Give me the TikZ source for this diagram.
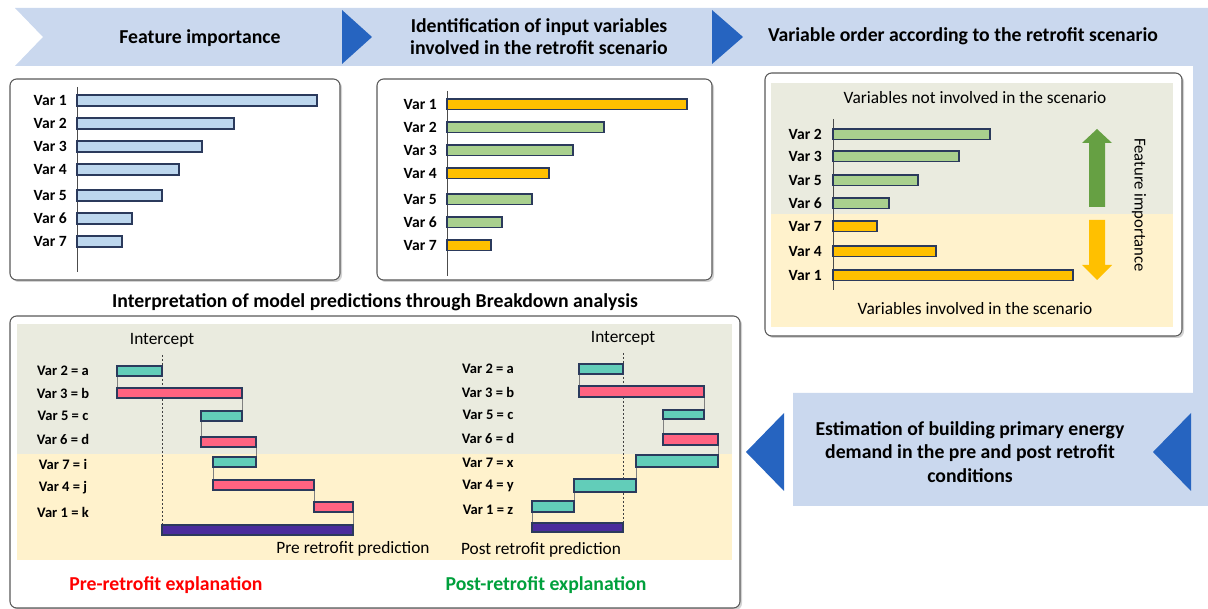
\documentclass[tikz,border=0pt]{standalone}
\usepackage{fontspec}
\setmainfont{Carlito}
\usetikzlibrary{shadows}
\definecolor{band}{HTML}{CAD8EE}
\definecolor{tri}{HTML}{2664C0}
\definecolor{bluebar}{HTML}{BDD7EE}
\definecolor{greenbar}{HTML}{A9D08E}
\definecolor{orangebar}{HTML}{FFC000}
\definecolor{barline}{HTML}{2B3A5C}
\definecolor{grayband}{HTML}{EAEBDF}
\definecolor{beige}{HTML}{FFF2CC}
\definecolor{tealbar}{HTML}{62CDB9}
\definecolor{pinkbar}{HTML}{FF6381}
\definecolor{purplebar}{HTML}{4A2C9C}
\definecolor{greenarrow}{HTML}{66A043}
\definecolor{redtxt}{HTML}{FF0000}
\definecolor{greentxt}{HTML}{00A03C}
\tikzset{
  barstyle/.style={draw=barline, line width=0.8pt},
  panel/.style={draw=black!65, line width=0.8pt, rounded corners=5pt, fill=white,
     drop shadow={shadow xshift=1.5pt, shadow yshift=-1.5pt, opacity=0.35}},
  varlab/.style={anchor=east, font=\fontsize{11.7}{13}\selectfont\bfseries, inner sep=0pt},
  bdlab/.style={anchor=center, font=\fontsize{10.9}{12}\selectfont\bfseries, inner sep=0pt},
  head/.style={font=\fontsize{14.8}{17}\selectfont\bfseries, align=center, inner sep=0pt},
  plain/.style={font=\fontsize{13}{15}\selectfont, inner sep=0pt},
  axis/.style={draw=black!70, line width=0.7pt},
  link/.style={draw=black!50, line width=0.6pt},
  dashline/.style={draw=black!75, line width=0.5pt, dash pattern=on 1.5pt off 1.5pt},
  tristyle/.style={fill=tri, draw=none}
}
\begin{document}
\begin{tikzpicture}[x=0.75pt, y=-0.75pt]
\useasboundingbox (0,0) rectangle (1208,609);
% ---- process band
\fill[band] (15,8) -- (1208,8) -- (1208,506) -- (793,506) -- (793,393) -- (1193,393) -- (1193,66) -- (15,66) -- (43,37) -- cycle;
\fill[tristyle] (342,10) -- (372,37) -- (342,64) -- cycle;
\fill[tristyle] (712,10) -- (743,37) -- (712,64) -- cycle;
\fill[tristyle] (1191,413) -- (1153,452) -- (1191,491) -- cycle;
\fill[tristyle] (784,413) -- (746,452) -- (784,491) -- cycle;
\node[head] (h1) at (200,38) {Feature importance};
\node[head, font=\fontsize{14.8}{16.5}\selectfont\bfseries] (h2) at (539,37) {Identification of input variables\\involved in the retrofit scenario};
\node[head] (h3) at (963,36) {Variable order according to the retrofit scenario};
\node[head, font=\fontsize{14.8}{17.6}\selectfont\bfseries] (h4) at (970,452) {Estimation of building primary energy\\demand in the pre and post retrofit\\conditions};
% ---- panel 1
\draw[panel] (10,79) rectangle (340,280);
\draw[axis] (77,87) -- (77,272);
\foreach \n/\y/\x in {1/95/317, 2/118/234, 3/141/202, 4/164/179, 5/190/162, 6/213/132, 7/236/122}{
  \draw[barstyle, fill=bluebar] (77,\y) rectangle (\x,\y+11);
  \node[varlab] (a\n) at (67,\y+5.5) {Var \n};
}
% ---- panel 2
\draw[panel] (377,79) rectangle (712,280);
\draw[axis] (447,91) -- (447,276);
\foreach \n/\y/\x/\c in {1/99/687/orangebar, 2/122/604/greenbar, 3/145/573/greenbar, 4/168/549/orangebar, 5/194/532/greenbar, 6/217/502/greenbar, 7/240/491/orangebar}{
  \draw[barstyle, fill=\c] (447,\y) rectangle (\x,\y+10.5);
  \node[varlab] (b\n) at (437,\y+5.5) {Var \n};
}
% ---- panel 3
\draw[panel] (765,73) rectangle (1182,336);
\fill[grayband] (771,83) rectangle (1173,214);
\fill[beige] (771,214) rectangle (1173,327);
\node[plain] (t3a) at (975,98) {Variables not involved in the scenario};
\node[plain] (t3b) at (975,309) {Variables involved in the scenario};
\draw[axis] (833,119) -- (833,290);
\foreach \n/\y/\x/\c in {2/129/990/greenbar, 3/151/959/greenbar, 5/175/918/greenbar, 6/198/889/greenbar, 7/221/877/orangebar, 4/246/936/orangebar, 1/270/1073/orangebar}{
  \draw[barstyle, fill=\c] (833,\y) rectangle (\x,\y+10.5);
  \node[varlab] (c\n) at (822,\y+5.5) {Var \n};
}
\fill[greenarrow] (1089,207) -- (1089,143) -- (1082,143) -- (1097,129) -- (1112,143) -- (1105,143) -- (1105,207) -- cycle;
\fill[orangebar] (1089,220) -- (1089,265) -- (1082,265) -- (1097,280) -- (1112,265) -- (1105,265) -- (1105,220) -- cycle;
\node[plain, font=\fontsize{12.5}{14}\selectfont, rotate=-90] (fi) at (1139,205) {Feature importance};
% ---- panel 4
\node[head] (h5) at (375,302) {Interpretation of model predictions through Breakdown analysis};
\draw[panel] (10,316) rectangle (740,608);
\fill[grayband] (17,324) rectangle (732,454);
\fill[beige] (17,454) rectangle (732,560);
% left breakdown
\node[plain] (ic1) at (162,340) {Intercept};
\draw[dashline] (162,355) -- (162,525);
\draw[link] (117,376) -- (117,388);
\draw[link] (242,398) -- (242,412);
\draw[link] (201,421) -- (201,437);
\draw[link] (256,447) -- (256,457);
\draw[link] (213,467) -- (213,480);
\draw[link] (314,491) -- (314,502);
\draw[link] (353,512) -- (353,525);
\foreach \x/\xx/\y/\c in {117/162/366/tealbar, 117/242/388/pinkbar, 201/242/411/tealbar, 201/256/437/pinkbar, 213/256/457/tealbar, 213/314/480/pinkbar, 314/353/502/pinkbar, 162/353/525/purplebar}{
  \draw[barstyle, fill=\c] (\x,\y) rectangle (\xx,\y+10);
}
\foreach \n/\t/\y in {1/{Var 2 = a}/371, 2/{Var 3 = b}/393, 3/{Var 5 = c}/416, 4/{Var 6 = d}/439, 5/{Var 7 = i}/464, 6/{Var 4 = j}/488, 7/{Var 1 = k}/512}{
  \node[bdlab] (p\n) at (63,\y) {\t};
}
\node[plain] (pre) at (353,549) {Pre retrofit prediction};
\node[head, text=redtxt] (pre2) at (166,585) {Pre-retrofit explanation};
% right breakdown
\node[plain] (ic2) at (623,338) {Intercept};
\draw[dashline] (623,353) -- (623,523);
\draw[link] (579,374) -- (579,386);
\draw[link] (704,397) -- (704,410);
\draw[link] (663,419) -- (663,434);
\draw[link] (718,445) -- (718,455);
\draw[link] (636,467) -- (636,479);
\draw[link] (574,492) -- (574,501);
\draw[link] (532,512) -- (532,523);
\foreach \x/\xx/\y/\yy/\c in {579/623/364/374/tealbar, 579/704/386/397/pinkbar, 663/704/410/419/tealbar, 663/718/434/445/pinkbar, 636/718/455/467/tealbar, 574/636/479/492/tealbar, 532/574/501/512/tealbar, 532/623/523/532/purplebar}{
  \draw[barstyle, fill=\c] (\x,\y) rectangle (\xx,\yy);
}
\foreach \n/\t/\y in {1/{Var 2 = a}/369, 2/{Var 3 = b}/392, 3/{Var 5 = c}/415, 4/{Var 6 = d}/438, 5/{Var 7 = x}/463, 6/{Var 4 = y}/486, 7/{Var 1 = z}/510}{
  \node[bdlab] (q\n) at (488,\y) {\t};
}
\node[plain] (post) at (541,550) {Post retrofit prediction};
\node[head, text=greentxt] (post2) at (546,585) {Post-retrofit explanation};
\end{tikzpicture}
\end{document}
